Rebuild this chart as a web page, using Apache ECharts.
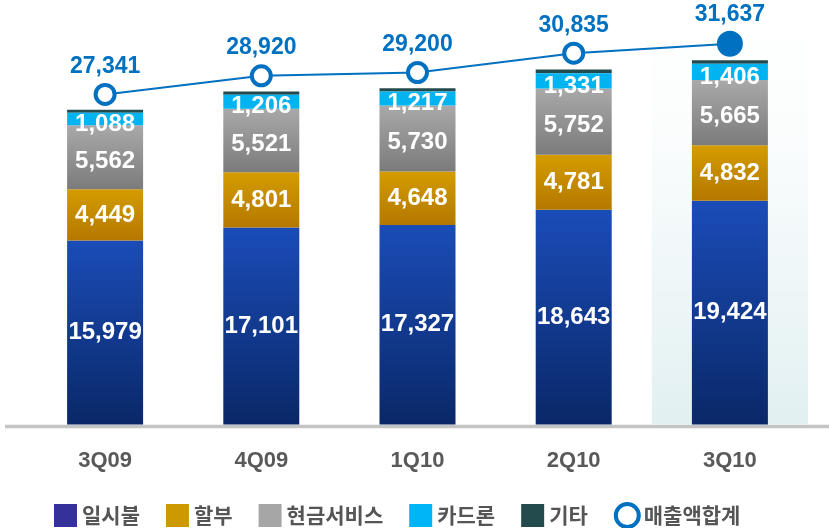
<!DOCTYPE html>
<html>
<head>
<meta charset="utf-8">
<script src="https://cdn.jsdelivr.net/npm/echarts@6/dist/echarts.min.js"></script>
<style>
  html, body { margin: 0; padding: 0; background: #fff; }
  #chart { width: 829px; height: 528px; }
</style>
</head>
<body>
<div id="chart"></div>
<script>
const quarters = ['3Q09', '4Q09', '1Q10', '2Q10', '3Q10'];
const lumpSum = [15979, 17101, 17327, 18643, 19424];
const installment = [4449, 4801, 4648, 4781, 4832];
const cashService = [5562, 5521, 5730, 5752, 5665];
const cardLoan = [1088, 1206, 1217, 1331, 1406];
const others = [263, 291, 278, 328, 310];
const totalSales = [27341, 28920, 29200, 30835, 31637];

const font = '"Liberation Sans", Arial, sans-serif';
const krFont = '"Noto Sans CJK KR", "Noto Sans", sans-serif';

const vgrad = (top, bottom) => new echarts.graphic.LinearGradient(0, 0, 0, 1, [
  { offset: 0, color: top },
  { offset: 1, color: bottom }
]);

const barLabel = (dy) => ({
  show: true,
  position: 'inside',
  offset: [0, dy],
  color: '#fff',
  fontFamily: font,
  fontSize: 24,
  fontWeight: 'bold',
  formatter: (p) => p.value.toLocaleString('en-US')
});

const chart = echarts.init(document.getElementById('chart'));

const option = {
  animation: false,
  grid: { left: 27, right: 21, top: 10, bottom: 103.5 },
  legend: {
    top: 502,
    left: 54,
    padding: 0,
    itemWidth: 23,
    itemHeight: 23,
    itemGap: 26,
    textStyle: { fontFamily: krFont, fontSize: 21, fontWeight: 'bold', color: '#555' },
    data: [
      { name: '일시불', icon: 'rect', itemStyle: { color: '#35309a' } },
      { name: '할부', icon: 'rect', itemStyle: { color: '#cc9900' } },
      { name: '현금서비스', icon: 'rect', itemStyle: { color: '#a6a6a6' } },
      { name: '카드론', icon: 'rect', itemStyle: { color: '#00b4f8' } },
      { name: '기타', icon: 'rect', itemStyle: { color: '#234b4e' } },
      { name: '매출액합계', icon: 'circle', itemStyle: { color: '#fff', borderColor: '#0070c0', borderWidth: 4 } }
    ]
  },
  xAxis: {
    type: 'category',
    data: quarters,
    axisLine: { show: false },
    axisTick: { show: false },
    axisLabel: { margin: 25, color: '#595959', fontFamily: font, fontSize: 22, fontWeight: 'bold' }
  },
  yAxis: [
    { type: 'value', min: 0, max: 36000, show: false, splitLine: { show: false } },
    { type: 'value', min: -650, max: 34500, show: false, splitLine: { show: false } }
  ],
  graphic: [
    {
      type: 'line',
      shape: { x1: 5, y1: 426.5, x2: 829, y2: 426.5 },
      style: { stroke: '#c4c4c4', lineWidth: 3.5 },
      silent: true
    }
  ],
  series: [
    {
      name: '일시불', type: 'bar', stack: 'sales', barWidth: 76,
      data: lumpSum,
      itemStyle: { color: vgrad('#1a4cb8', '#0a2868') },
      label: barLabel(0),
      markArea: {
        silent: true,
        itemStyle: {
          color: new echarts.graphic.LinearGradient(0, 0, 0, 1, [
            { offset: 0, color: 'rgba(226,240,242,0)' },
            { offset: 0.3, color: 'rgba(226,240,242,0.15)' },
            { offset: 1, color: 'rgba(226,240,242,1)' }
          ])
        },
        data: [[{ xAxis: '3Q10' }, { xAxis: '3Q10' }]]
      },
      z: 3
    },
    {
      name: '할부', type: 'bar', stack: 'sales', barWidth: 76,
      data: installment,
      itemStyle: { color: vgrad('#d49c00', '#b47800') },
      label: barLabel(0),
      z: 3
    },
    {
      name: '현금서비스', type: 'bar', stack: 'sales', barWidth: 76,
      data: cashService,
      itemStyle: { color: vgrad('#a9a9a9', '#7b7b7b') },
      label: barLabel(4),
      z: 3
    },
    {
      name: '카드론', type: 'bar', stack: 'sales', barWidth: 76,
      data: cardLoan,
      itemStyle: { color: '#00b4f2' },
      label: barLabel(5),
      z: 4
    },
    {
      name: '기타', type: 'bar', stack: 'sales', barWidth: 76,
      data: others,
      itemStyle: { color: '#234b4e' },
      z: 3
    },
    {
      name: '매출액합계', type: 'line', yAxisIndex: 1,
      data: totalSales.map((v, i) => i === totalSales.length - 1
        ? { value: v, symbolSize: 22, itemStyle: { color: '#0070c0', borderColor: '#0070c0' } }
        : v),
      symbol: 'circle',
      symbolSize: 19,
      lineStyle: { color: '#0070c0', width: 2 },
      itemStyle: { color: '#fff', borderColor: '#0070c0', borderWidth: 4 },
      label: {
        show: true,
        position: 'top',
        distance: 5,
        color: '#0070c0',
        fontFamily: font,
        fontSize: 23,
        fontWeight: 'bold',
        formatter: (p) => p.value.toLocaleString('en-US')
      },
      z: 10
    }
  ]
};

chart.setOption(option);
</script>
</body>
</html>
